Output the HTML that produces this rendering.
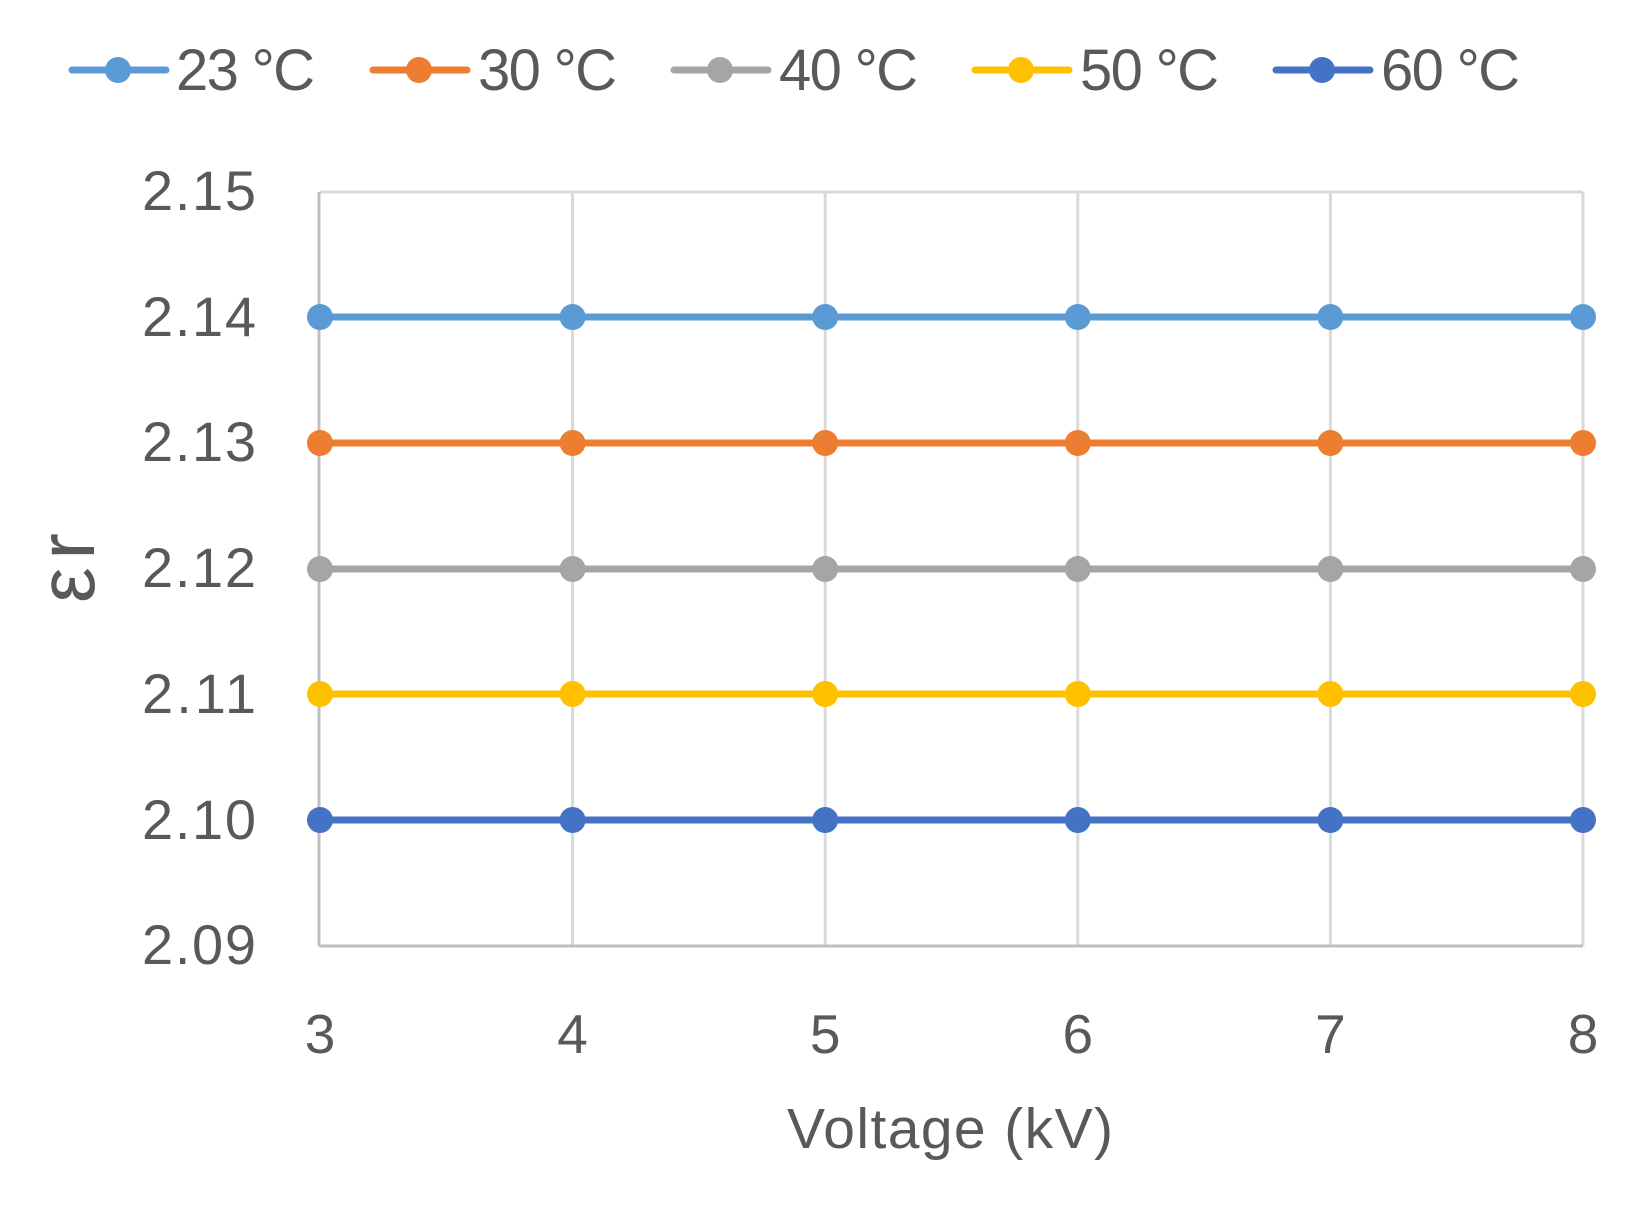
<!DOCTYPE html>
<html><head><style>html,body{margin:0;padding:0;background:#fff}svg{display:block}</style></head>
<body>
<svg width="1637" height="1208" viewBox="0 0 1637 1208" xmlns="http://www.w3.org/2000/svg" font-family="'Liberation Sans', sans-serif" fill="#595959">
<rect width="1637" height="1208" fill="#fff"/>
<!-- grid -->
<g stroke="#d9d9d9" stroke-width="3">
<line x1="320" y1="192" x2="1583" y2="192"/>
<line x1="572.6" y1="192" x2="572.6" y2="946"/>
<line x1="825.2" y1="192" x2="825.2" y2="946"/>
<line x1="1077.8" y1="192" x2="1077.8" y2="946"/>
<line x1="1330.4" y1="192" x2="1330.4" y2="946"/>
<line x1="1583" y1="192" x2="1583" y2="946"/>
</g>
<g stroke="#bfbfbf" stroke-width="3">
<line x1="319" y1="192" x2="319" y2="946"/>
<line x1="319" y1="946" x2="1583" y2="946"/>
</g>
<!-- y labels -->
<g font-size="56" text-anchor="end">
<text x="256" y="210" textLength="114">2.15</text>
<text x="256" y="336" textLength="114">2.14</text>
<text x="256" y="461" textLength="114">2.13</text>
<text x="256" y="587" textLength="114">2.12</text>
<text x="256" y="713" textLength="114">2.11</text>
<text x="256" y="839" textLength="114">2.10</text>
<text x="256" y="964" textLength="114">2.09</text>
</g>
<!-- x labels -->
<g font-size="55" text-anchor="middle">
<text x="320" y="1053">3</text>
<text x="572.6" y="1053">4</text>
<text x="825.2" y="1053">5</text>
<text x="1077.8" y="1053">6</text>
<text x="1330.4" y="1053">7</text>
<text x="1583" y="1053">8</text>
</g>
<text x="787" y="1148" font-size="57" textLength="326">Voltage (kV)</text>
<text transform="translate(94,603) rotate(-90)" font-size="80" textLength="70">εr</text>
<!-- series -->
<g stroke-width="7" stroke-linecap="round">
<g stroke="#5B9BD5" fill="#5B9BD5"><line x1="320" y1="317" x2="1583" y2="317"/>
<circle cx="320" cy="317" r="13" stroke="none"/><circle cx="572.6" cy="317" r="13" stroke="none"/><circle cx="825.2" cy="317" r="13" stroke="none"/><circle cx="1077.8" cy="317" r="13" stroke="none"/><circle cx="1330.4" cy="317" r="13" stroke="none"/><circle cx="1583" cy="317" r="13" stroke="none"/></g>
<g stroke="#ED7D31" fill="#ED7D31"><line x1="320" y1="443" x2="1583" y2="443"/>
<circle cx="320" cy="443" r="13" stroke="none"/><circle cx="572.6" cy="443" r="13" stroke="none"/><circle cx="825.2" cy="443" r="13" stroke="none"/><circle cx="1077.8" cy="443" r="13" stroke="none"/><circle cx="1330.4" cy="443" r="13" stroke="none"/><circle cx="1583" cy="443" r="13" stroke="none"/></g>
<g stroke="#A5A5A5" fill="#A5A5A5"><line x1="320" y1="569" x2="1583" y2="569"/>
<circle cx="320" cy="569" r="13" stroke="none"/><circle cx="572.6" cy="569" r="13" stroke="none"/><circle cx="825.2" cy="569" r="13" stroke="none"/><circle cx="1077.8" cy="569" r="13" stroke="none"/><circle cx="1330.4" cy="569" r="13" stroke="none"/><circle cx="1583" cy="569" r="13" stroke="none"/></g>
<g stroke="#FFC000" fill="#FFC000"><line x1="320" y1="694" x2="1583" y2="694"/>
<circle cx="320" cy="694" r="13" stroke="none"/><circle cx="572.6" cy="694" r="13" stroke="none"/><circle cx="825.2" cy="694" r="13" stroke="none"/><circle cx="1077.8" cy="694" r="13" stroke="none"/><circle cx="1330.4" cy="694" r="13" stroke="none"/><circle cx="1583" cy="694" r="13" stroke="none"/></g>
<g stroke="#4472C4" fill="#4472C4"><line x1="320" y1="820" x2="1583" y2="820"/>
<circle cx="320" cy="820" r="13" stroke="none"/><circle cx="572.6" cy="820" r="13" stroke="none"/><circle cx="825.2" cy="820" r="13" stroke="none"/><circle cx="1077.8" cy="820" r="13" stroke="none"/><circle cx="1330.4" cy="820" r="13" stroke="none"/><circle cx="1583" cy="820" r="13" stroke="none"/></g>
</g>
<!-- legend -->
<g stroke-width="7" stroke-linecap="round">
<g stroke="#5B9BD5" fill="#5B9BD5"><line x1="72" y1="70" x2="166" y2="70"/><circle cx="118" cy="70" r="13" stroke="none"/></g>
<g stroke="#ED7D31" fill="#ED7D31"><line x1="373" y1="70" x2="467" y2="70"/><circle cx="419" cy="70" r="13" stroke="none"/></g>
<g stroke="#A5A5A5" fill="#A5A5A5"><line x1="674" y1="70" x2="768" y2="70"/><circle cx="720" cy="70" r="13" stroke="none"/></g>
<g stroke="#FFC000" fill="#FFC000"><line x1="975" y1="70" x2="1069" y2="70"/><circle cx="1021" cy="70" r="13" stroke="none"/></g>
<g stroke="#4472C4" fill="#4472C4"><line x1="1276" y1="70" x2="1370" y2="70"/><circle cx="1322" cy="70" r="13" stroke="none"/></g>
</g>
<g font-size="58">
<text x="176" y="90" textLength="139">23 °C</text>
<text x="478" y="90" textLength="139">30 °C</text>
<text x="779" y="90" textLength="139">40 °C</text>
<text x="1080" y="90" textLength="139">50 °C</text>
<text x="1381" y="90" textLength="139">60 °C</text>
</g>
</svg>
</body></html>
